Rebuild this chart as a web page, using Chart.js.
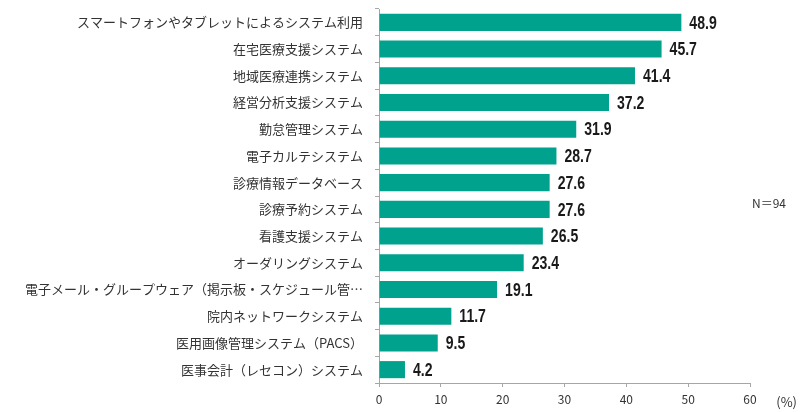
<!DOCTYPE html>
<html>
<head>
<meta charset="utf-8">
<script src="https://cdn.jsdelivr.net/npm/chart.js@4"></script>
<style>
html,body{margin:0;padding:0;background:#fff;}
#wrap{width:800px;height:412px;position:relative;}
</style>
</head>
<body>
<div id="wrap"><canvas id="c"></canvas></div>
<script>
const categories = [
  "スマートフォンやタブレットによるシステム利用",
  "在宅医療支援システム",
  "地域医療連携システム",
  "経営分析支援システム",
  "勤怠管理システム",
  "電子カルテシステム",
  "診療情報データベース",
  "診療予約システム",
  "看護支援システム",
  "オーダリングシステム",
  "電子メール・グループウェア（掲示板・スケジュール管…",
  "院内ネットワークシステム",
  "医用画像管理システム（PACS）",
  "医事会計（レセコン）システム"
];
const values = [48.9, 45.7, 41.4, 37.2, 31.9, 28.7, 27.6, 27.6, 26.5, 23.4, 19.1, 11.7, 9.5, 4.2];
const xTicks = [0, 10, 20, 30, 40, 50, 60];
const unitLabel = "(%)";
const sampleLabel = "N＝94";

const extras = {
  id: 'extras',
  afterDatasetsDraw(chart) {
    const ctx = chart.ctx;
    const meta = chart.getDatasetMeta(0);
    ctx.save();
    ctx.fillStyle = '#1a1a1a';
    ctx.textBaseline = 'middle';
    ctx.textAlign = 'left';
    ctx.font = 'bold 19px "Liberation Sans Narrow", "Liberation Sans", sans-serif';
    meta.data.forEach((bar, i) => {
      ctx.save();
      ctx.translate(bar.x + 8, bar.y + 1);
      ctx.scale(0.74, 1);
      ctx.fillText(values[i].toFixed(1), 0, 0);
      ctx.restore();
    });
    const xs = chart.scales.x;
    ctx.font = '13px "Liberation Sans Narrow", "Noto Sans CJK JP", sans-serif';
    ctx.fillStyle = '#333';
    ctx.textAlign = 'right';
    ctx.fillText(unitLabel, 797, xs.top + 19);
    ctx.textAlign = 'left';
    ctx.font = '12px "Noto Sans CJK JP", sans-serif';
    ctx.fillText(sampleLabel, 752, 203);
    ctx.restore();
  }
};

new Chart(document.getElementById('c'), {
  type: 'bar',
  data: {
    labels: categories,
    datasets: [{
      data: values,
      backgroundColor: '#00A28E',
      borderWidth: 0,
      barPercentage: 0.64,
      categoryPercentage: 1.0
    }]
  },
  options: {
    indexAxis: 'y',
    responsive: true,
    maintainAspectRatio: false,
    animation: false,
    layout: { padding: { left: 0, right: 50, top: 9, bottom: 0 } },
    plugins: { legend: { display: false }, tooltip: { enabled: false } },
    scales: {
      x: {
        min: 0, max: 60,
        afterBuildTicks(scale) { scale.ticks = xTicks.map(v => ({ value: v })); },
        afterFit(scale) { scale.height = 29; scale.paddingLeft = 0; scale.paddingRight = 0; },
        grid: { drawOnChartArea: false, color: '#A6A6A6', tickLength: 4, tickColor: '#A6A6A6' },
        border: { color: '#A6A6A6', width: 1 },
        ticks: { color: '#333', font: { size: 12, family: '"Noto Sans CJK JP", sans-serif' }, padding: 5 }
      },
      y: {
        afterFit(scale) { scale.width = 379; scale.paddingTop = 0; scale.paddingBottom = 0; },
        grid: { drawOnChartArea: false, offset: true, color: '#A6A6A6', tickLength: 4, tickColor: '#A6A6A6' },
        border: { color: '#A6A6A6', width: 1 },
        ticks: { color: '#333', font: { size: 13, family: '"Noto Sans CJK JP", sans-serif' }, padding: 12, autoSkip: false }
      }
    }
  },
  plugins: [extras]
});
</script>
</body>
</html>
